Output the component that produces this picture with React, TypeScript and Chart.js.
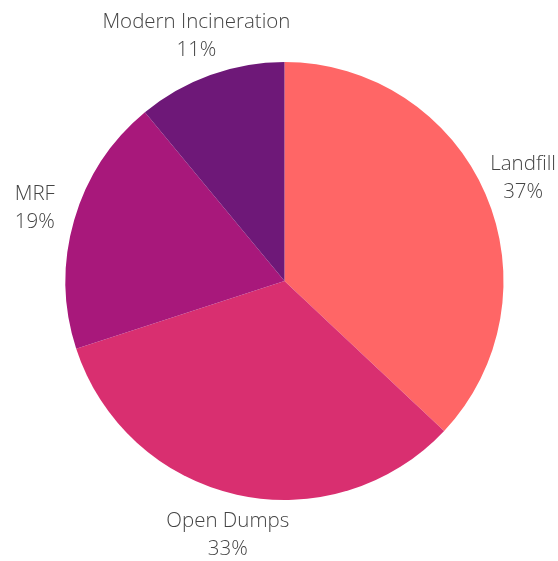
import React, { useEffect, useRef } from "react";
import { Chart, registerables } from "chart.js";

Chart.register(...registerables);

const categories = ["Landfill", "Open Dumps", "MRF", "Modern Incineration"];
const shares = [37, 33, 19, 11];
const colors = ["#FF6666", "#D92F70", "#A8187B", "#6E1878"];

const outsideLabels = {
  id: "outsideLabels",
  afterDatasetsDraw(chart: any) {
    const ctx = chart.ctx;
    const meta = chart.getDatasetMeta(0);
    const data = chart.data.datasets[0].data as number[];
    const labels = chart.data.labels as string[];
    ctx.save();
    ctx.fillStyle = "#444444";
    ctx.font = "300 20.5px 'Open Sans'";
    ctx.textAlign = "center";
    ctx.textBaseline = "middle";
    meta.data.forEach((arc: any, i: number) => {
      const p = arc.getProps(["x", "y", "startAngle", "endAngle", "outerRadius"], true);
      const mid = (p.startAngle + p.endAngle) / 2;
      const r = p.outerRadius + 41;
      const cx = p.x + Math.cos(mid) * r;
      const cy = p.y + Math.sin(mid) * r;
      ctx.fillText(labels[i], cx, cy - 14);
      ctx.fillText(data[i] + "%", cx, cy + 14);
    });
    ctx.restore();
  },
};

export default function App() {
  const ref = useRef<HTMLCanvasElement>(null);
  useEffect(() => {
    document.body.style.margin = "0";
    const chart = new Chart(ref.current!, {
      type: "pie",
      data: {
        labels: categories,
        datasets: [
          {
            data: shares,
            backgroundColor: colors,
            borderWidth: 0,
            offset: 0,
          },
        ],
      },
      options: {
        responsive: false,
        animation: false,
        layout: { padding: { left: 65.5, right: 54.5, top: 62, bottom: 61 } },
        plugins: { legend: { display: false }, tooltip: { enabled: false } },
      },
      plugins: [outsideLabels],
    });
    return () => chart.destroy();
  }, []);
  return <canvas ref={ref} width={558} height={561} style={{ display: "block" }} />;
}
